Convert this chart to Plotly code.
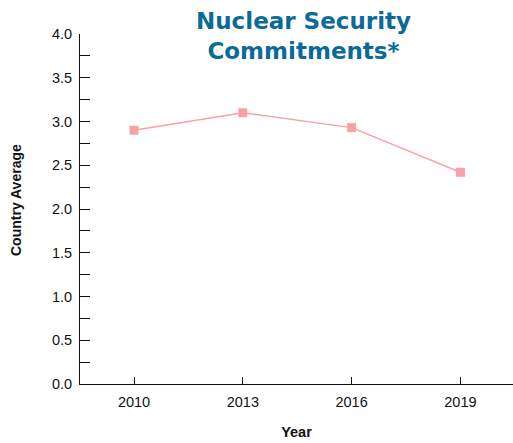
import plotly.graph_objects as go

years = [2010, 2013, 2016, 2019]
country_average = [2.90, 3.10, 2.93, 2.42]
x_tick_labels = ["2010", "2013", "2016", "2019"]

fig = go.Figure()
fig.add_trace(go.Scatter(
    x=years, y=country_average, mode="lines+markers",
    line=dict(color="#f6a3a8", width=1.5),
    marker=dict(symbol="square", size=9, color="#f6a3a8"),
    showlegend=False,
))

font_family = "Liberation Sans, Arial, sans-serif"
fig.update_layout(
    width=513, height=443,
    margin=dict(l=80, r=0, t=34, b=59, autoexpand=False),
    paper_bgcolor="white", plot_bgcolor="white",
    font=dict(family=font_family, color="#111111", size=14.5),
    xaxis=dict(
        range=[2008.51, 2020.45],
        tickvals=years, ticktext=x_tick_labels,
        ticks="inside", ticklen=7, tickwidth=1, tickcolor="#111",
        ticklabelstandoff=5,
        showline=True, linecolor="#111", linewidth=1,
        showgrid=False, zeroline=False, automargin=False,
        title=dict(text="<b>Year</b>", font=dict(size=14.5), standoff=17),
    ),
    yaxis=dict(
        range=[0, 4], dtick=0.5, tickformat=".1f",
        ticks="inside", ticklen=10, tickwidth=1, tickcolor="#111",
        ticklabelstandoff=4,
        minor=dict(dtick=0.25, ticks="inside", ticklen=10, tickwidth=1, tickcolor="#111"),
        showline=True, linecolor="#111", linewidth=1,
        showgrid=False, zeroline=False, automargin=False,
    ),
    annotations=[
        dict(
            text="<b>Nuclear Security<br>Commitments*</b>",
            xref="paper", yref="paper", x=0.517, y=(384 - 36) / 350,
            xanchor="center", yanchor="middle", showarrow=False,
            font=dict(family="DejaVu Sans, sans-serif", size=23, color="#0b6b97"),
        ),
        dict(
            text="<b>Country Average</b>", textangle=-90,
            xref="paper", yref="paper", x=(16 - 80) / 433, y=(384 - 200) / 350,
            xanchor="center", yanchor="middle", showarrow=False,
            font=dict(family=font_family, size=14, color="#111111"),
        ),
    ],
)

fig.write_html("out.html", config={"displayModeBar": False},
               post_script="document.body.style.margin='0';")
